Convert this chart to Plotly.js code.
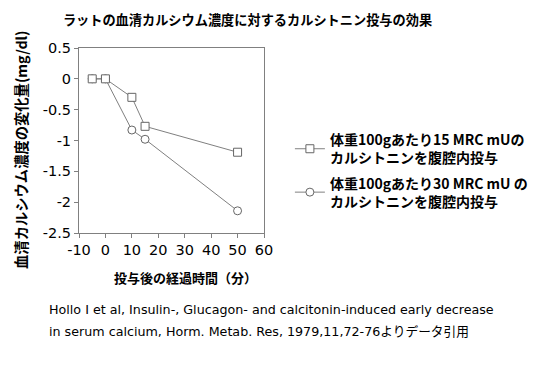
<!DOCTYPE html>
<html><head><meta charset="utf-8">
<script src="https://cdn.plot.ly/plotly-3.0.1.min.js"></script>
<style>html,body{margin:0;padding:0;background:#fff}#c{width:550px;height:367px}</style>
</head><body><div id="c"></div>
<script>
const timeMin = [-5, 0, 10, 15, 50];
const dose15 = [0, 0, -0.30, -0.77, -1.19];
const dose30 = [0, 0, -0.83, -0.98, -2.14];
const seriesNames = ["体重100gあたり15 MRC mUの<br>カルシトニンを腹腔内投与", "体重100gあたり30 MRC mU の<br>カルシトニンを腹腔内投与"];
const xTicks = [-10, 0, 10, 20, 30, 40, 50, 60];
const xTickText = ["-10", "0", "10", "20", "30", "40", "50", "60"];
const yTicks = [0.5, 0, -0.5, -1, -1.5, -2, -2.5];
const yTickText = ["0.5", "0", "-0.5", "-1", "-1.5", "-2", "-2.5"];
const titleText = "ラットの血清カルシウム濃度に対するカルシトニン投与の効果";
const xTitle = "投与後の経過時間（分）";
const yTitle = "血清カルシウム濃度の変化量(mg/dl)";
const citationLines = ["Hollo I et al, Insulin-, Glucagon- and calcitonin-induced early decrease",
  "in serum calcium, Horm. Metab. Res, 1979,11,72-76よりデータ引用"];

const font = "Noto Sans CJK JP, sans-serif";
const latinFont = "DejaVu Sans, Noto Sans CJK JP, sans-serif";
const lineC = "#808080";
const traces = [
  {x: timeMin, y: dose30, name: seriesNames[1], legendgroup: "g30", legendrank: 2, mode: "lines+markers", type: "scatter",
   line: {color: lineC, width: 1}, marker: {symbol: "circle", size: 8, color: "#fff", line: {width: 1, color: "#666"}}},
  {x: timeMin, y: dose15, name: seriesNames[0], legendgroup: "g15", legendrank: 1, mode: "lines+markers", type: "scatter",
   line: {color: lineC, width: 1}, marker: {symbol: "square", size: 8, color: "#fff", line: {width: 1, color: "#666"}}}
];
const layout = {
  width: 550, height: 367,
  margin: {l: 79, r: 286, t: 48, b: 134},
  paper_bgcolor: "#fff", plot_bgcolor: "#fff",
  font: {family: font, color: "#000"},
  title: {text: "<b>" + titleText + "</b>", font: {size: 13.2, family: font}, x: 0.45, xanchor: "center", y: 0.945, yanchor: "middle"},
  xaxis: {range: [-10, 60], tickvals: xTicks, ticktext: xTickText, ticks: "outside", ticklen: 4, tickcolor: lineC,
    showline: true, linecolor: lineC, mirror: true, showgrid: false, zeroline: false,
    tickfont: {size: 14.5, family: latinFont}},
  yaxis: {range: [-2.5, 0.5], tickvals: yTicks, ticktext: yTickText, ticks: "outside", ticklen: 4, tickcolor: lineC,
    showline: true, linecolor: lineC, mirror: true, showgrid: false, zeroline: false,
    tickfont: {size: 14.5, family: latinFont}},
  showlegend: true,
  legend: {x: 1.14, y: 0.589, xanchor: "left", yanchor: "top", traceorder: "grouped",
    font: {size: 14, family: font, weight: "bold"}, bgcolor: "rgba(0,0,0,0)", tracegroupgap: 4, itemwidth: 30},
  annotations: [
    {text: "<b>" + xTitle + "</b>", xref: "paper", yref: "paper", x: 0.573, y: -0.243, xanchor: "center", yanchor: "middle",
     showarrow: false, font: {size: 13, family: font}},
    {text: "<b>" + yTitle + "</b>", xref: "paper", yref: "paper", x: -0.3135, y: 0.449, xanchor: "center", yanchor: "middle",
     textangle: -90, showarrow: false, font: {size: 14.3, family: font}},
    {text: citationLines[0], xref: "paper", yref: "paper", x: -0.175, y: -0.36, xanchor: "left", yanchor: "top",
     showarrow: false, align: "left", font: {size: 12.7, family: latinFont}},
    {text: citationLines[1], xref: "paper", yref: "paper", x: -0.175, y: -0.48, xanchor: "left", yanchor: "top",
     showarrow: false, align: "left", font: {size: 12.7, family: latinFont}}
  ]
};
Plotly.newPlot("c", traces, layout, {staticPlot: true});
</script></body></html>
